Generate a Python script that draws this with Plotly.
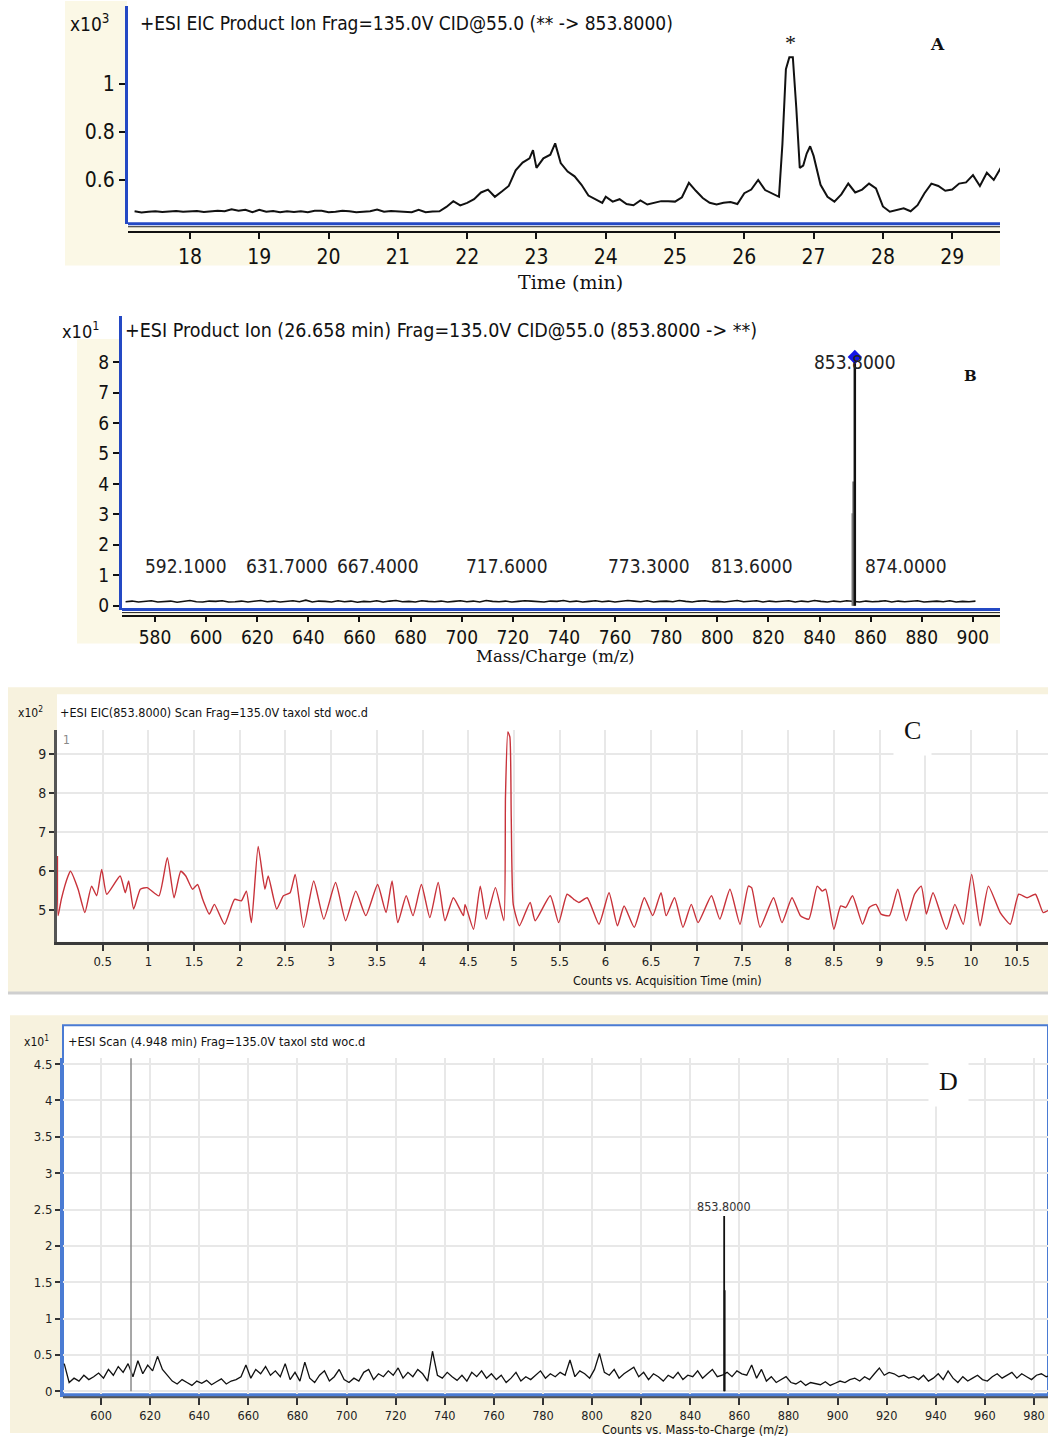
import numpy as np
import plotly.graph_objects as go

# ---------------- DATA ----------------
# Panel A: +ESI EIC product ion, counts (x10^3) vs time (min)
a_time = [17.2, 17.3, 17.4, 17.5, 17.6, 17.7, 17.8, 17.9, 18.0, 18.1, 18.2, 18.3, 18.4, 18.5,
          18.6, 18.7, 18.8, 18.9, 19.0, 19.1, 19.2, 19.3, 19.4, 19.5, 19.6, 19.7, 19.8, 19.9,
          20.0, 20.1, 20.2, 20.3, 20.4, 20.5, 20.6, 20.7, 20.8, 20.9, 21.0, 21.1, 21.2, 21.3,
          21.4, 21.5, 21.6, 21.7, 21.8, 21.9, 22.0, 22.1, 22.2, 22.3, 22.4, 22.5, 22.6, 22.7,
          22.8, 22.9, 22.95, 23.0, 23.1, 23.2, 23.27, 23.35, 23.45, 23.55, 23.65, 23.75, 23.85,
          23.95, 24.0, 24.1, 24.2, 24.3, 24.4, 24.5, 24.6, 24.7, 24.8, 24.9, 25.0, 25.1, 25.2,
          25.3, 25.4, 25.5, 25.6, 25.7, 25.8, 25.9, 26.0, 26.1, 26.2, 26.3, 26.4, 26.5, 26.55,
          26.6, 26.65, 26.7, 26.75, 26.8, 26.85, 26.9, 26.95, 27.0, 27.1, 27.2, 27.3, 27.4,
          27.5, 27.6, 27.7, 27.8, 27.9, 28.0, 28.1, 28.2, 28.3, 28.4, 28.5, 28.6, 28.7, 28.8,
          28.9, 29.0, 29.1, 29.2, 29.3, 29.4, 29.5, 29.6, 29.7]
a_counts = [0.470, 0.465, 0.468, 0.470, 0.467, 0.470, 0.471, 0.468, 0.470, 0.471, 0.467, 0.470,
            0.472, 0.470, 0.478, 0.472, 0.476, 0.466, 0.476, 0.468, 0.471, 0.466, 0.470, 0.467,
            0.470, 0.466, 0.472, 0.472, 0.466, 0.468, 0.472, 0.470, 0.466, 0.468, 0.470, 0.477,
            0.468, 0.471, 0.470, 0.470, 0.466, 0.476, 0.466, 0.469, 0.470, 0.488, 0.512, 0.494,
            0.505, 0.520, 0.548, 0.560, 0.530, 0.552, 0.575, 0.640, 0.672, 0.690, 0.724, 0.650,
            0.690, 0.705, 0.752, 0.670, 0.635, 0.615, 0.580, 0.535, 0.520, 0.505, 0.530, 0.510,
            0.520, 0.500, 0.495, 0.515, 0.498, 0.505, 0.512, 0.512, 0.510, 0.528, 0.588, 0.555,
            0.525, 0.505, 0.498, 0.505, 0.508, 0.500, 0.545, 0.560, 0.600, 0.558, 0.545, 0.530,
            0.750, 1.060, 1.110, 1.110, 0.900, 0.650, 0.660, 0.710, 0.740, 0.700, 0.580, 0.530,
            0.510, 0.540, 0.585, 0.548, 0.560, 0.585, 0.565, 0.490, 0.468, 0.475, 0.482, 0.470,
            0.495, 0.545, 0.585, 0.575, 0.555, 0.560, 0.585, 0.590, 0.620, 0.575, 0.630, 0.600,
            0.650]
a_xticks = [18, 19, 20, 21, 22, 23, 24, 25, 26, 27, 28, 29]
a_yticks = [0.6, 0.8, 1]

# Panel B: product ion spectrum, counts (x10^1) vs m/z
b_noise_counts = [0.13, 0.15, 0.12, 0.14, 0.16, 0.12, 0.13, 0.15, 0.11, 0.14,
                  0.17, 0.13, 0.12, 0.15, 0.14, 0.16, 0.12, 0.13, 0.15, 0.12,
                  0.14, 0.17, 0.13, 0.15, 0.12, 0.14, 0.16, 0.13, 0.18, 0.12,
                  0.15, 0.14, 0.12, 0.16, 0.13, 0.15, 0.11, 0.14, 0.13, 0.16,
                  0.12, 0.15, 0.17, 0.13, 0.14, 0.12, 0.16, 0.14, 0.13, 0.15,
                  0.12, 0.14, 0.16, 0.13, 0.15, 0.12, 0.17, 0.14, 0.13, 0.15,
                  0.12, 0.14, 0.16, 0.15, 0.13, 0.12, 0.15, 0.14, 0.17, 0.13,
                  0.15, 0.12, 0.14, 0.16, 0.13, 0.15, 0.12, 0.14, 0.17, 0.15,
                  0.13, 0.16, 0.12, 0.14, 0.15, 0.13, 0.17, 0.14, 0.12, 0.15,
                  0.16, 0.13, 0.14, 0.12, 0.15, 0.17, 0.13, 0.14, 0.16, 0.12,
                  0.15, 0.13, 0.14, 0.16, 0.12, 0.15, 0.13, 0.17, 0.14, 0.12,
                  0.15, 0.13, 0.16, 0.14, 0.12, 0.15, 0.13, 0.14, 0.16, 0.12,
                  0.15, 0.13, 0.14, 0.16, 0.12, 0.14, 0.15, 0.13, 0.16, 0.12,
                  0.14, 0.13, 0.15]
b_noise_mz_range = [568.5, 901.0]
b_stick_mz = [853.2, 853.5, 853.8]
b_stick_counts = [3.04, 4.08, 8.17]
b_label_mz = [592.1, 631.7, 667.4, 717.6, 773.3, 813.6, 874.0]
b_label_level = 1.31
b_top_mz = 853.8
b_top_counts = 8.17
b_xticks = [580, 600, 620, 640, 660, 680, 700, 720, 740, 760, 780, 800, 820, 840, 860, 880, 900]
b_yticks = [0, 1, 2, 3, 4, 5, 6, 7, 8]

# Panel C: EIC(853.8) scan, counts (x10^2) vs acquisition time (min)
c_time = [0.005, 0.012, 0.047, 0.121, 0.147, 0.231, 0.305, 0.378, 0.434, 0.489, 0.544, 0.691,
          0.747, 0.784, 0.839, 0.912, 0.986, 1.115, 1.207, 1.281, 1.354, 1.409, 1.483, 1.538,
          1.594, 1.667, 1.722, 1.833, 1.943, 2.017, 2.072, 2.127, 2.201, 2.275, 2.311, 2.404,
          2.477, 2.551, 2.606, 2.698, 2.809, 2.919, 3.048, 3.158, 3.269, 3.379, 3.508, 3.600,
          3.666, 3.729, 3.821, 3.895, 3.987, 4.079, 4.171, 4.245, 4.337, 4.447, 4.465, 4.557,
          4.631, 4.697, 4.797, 4.889, 4.907, 4.933, 4.955, 4.970, 4.992, 5.060, 5.177, 5.232,
          5.397, 5.489, 5.581, 5.654, 5.709, 5.801, 5.930, 6.040, 6.132, 6.205, 6.316, 6.426,
          6.518, 6.609, 6.665, 6.757, 6.849, 6.940, 7.014, 7.161, 7.252, 7.363, 7.473, 7.565,
          7.600, 7.693, 7.840, 7.932, 8.042, 8.134, 8.226, 8.318, 8.373, 8.410, 8.501, 8.575,
          8.630, 8.704, 8.814, 8.887, 8.961, 9.016, 9.108, 9.199, 9.291, 9.383, 9.456, 9.512,
          9.585, 9.732, 9.824, 9.916, 10.008, 10.100, 10.191, 10.320, 10.430, 10.522, 10.614,
          10.706, 10.790, 10.850]
c_counts = [6.39, 4.86, 5.28, 5.88, 6.00, 5.54, 4.94, 5.62, 5.37, 6.05, 5.41, 5.88,
            5.45, 5.75, 5.03, 5.54, 5.58, 5.37, 6.35, 5.32, 6.00, 5.88, 5.54, 5.66,
            5.28, 4.90, 5.15, 4.64, 5.28, 5.24, 5.49, 4.68, 6.64, 5.54, 5.88, 5.03,
            5.37, 5.45, 5.92, 4.56, 5.75, 4.77, 5.71, 4.73, 5.49, 4.86, 5.66, 4.94,
            5.75, 4.68, 5.37, 4.86, 5.66, 4.81, 5.71, 4.73, 5.32, 4.86, 5.15, 4.51,
            5.62, 4.77, 5.58, 4.73, 7.92, 9.58, 9.45, 7.41, 5.15, 4.60, 5.20, 4.73,
            5.37, 4.68, 5.41, 5.28, 5.20, 5.32, 4.64, 5.45, 4.60, 5.11, 4.56, 5.32,
            4.86, 5.45, 4.86, 5.32, 4.56, 5.15, 4.68, 5.37, 4.77, 5.54, 4.64, 5.62,
            5.58, 4.56, 5.32, 4.68, 5.32, 4.86, 4.77, 5.62, 5.49, 5.54, 4.51, 5.11,
            5.07, 5.37, 4.64, 5.07, 5.15, 4.90, 4.86, 5.54, 4.73, 5.41, 5.62, 4.90,
            5.45, 4.51, 5.15, 4.64, 5.92, 4.60, 5.62, 4.94, 4.64, 5.41, 5.32,
            5.41, 4.94, 5.00]
c_xticks = [0.5, 1, 1.5, 2, 2.5, 3, 3.5, 4, 4.5, 5, 5.5, 6, 6.5, 7, 7.5, 8, 8.5, 9, 9.5, 10, 10.5]
c_yticks = [5, 6, 7, 8, 9]

# Panel D: scan at 4.948 min, counts (x10^1) vs m/z
d_noise_counts = [0.38, 0.12, 0.18, 0.14, 0.22, 0.16, 0.20, 0.25,
                  0.18, 0.30, 0.22, 0.34, 0.26, 0.38, 0.20, 0.42, 0.24, 0.36, 0.28, 0.48, 0.30,
                  0.22, 0.14, 0.10, 0.16, 0.12, 0.08, 0.14, 0.11, 0.15, 0.09, 0.13, 0.17, 0.10, 0.14, 0.16,
                  0.20, 0.36, 0.18, 0.30, 0.24, 0.34, 0.22, 0.28, 0.20, 0.38, 0.16, 0.26, 0.14, 0.40, 0.18,
                  0.12, 0.22, 0.28, 0.14, 0.20, 0.30, 0.16,
                  0.12, 0.18, 0.14, 0.26, 0.30, 0.16, 0.24, 0.20, 0.28, 0.22, 0.32, 0.18, 0.26, 0.20, 0.30,
                  0.24, 0.14, 0.55, 0.22, 0.18, 0.26, 0.20, 0.15,
                  0.22, 0.14, 0.26, 0.20, 0.28, 0.18, 0.24, 0.16, 0.22, 0.12, 0.18, 0.26, 0.14, 0.20, 0.16,
                  0.22, 0.28, 0.18, 0.24, 0.20,
                  0.26, 0.22, 0.43, 0.20, 0.28, 0.24, 0.18, 0.30, 0.52, 0.26, 0.22, 0.30, 0.18, 0.24, 0.28,
                  0.33, 0.20, 0.26, 0.16, 0.24, 0.20, 0.14, 0.22, 0.18, 0.26, 0.16, 0.22, 0.20, 0.28, 0.18,
                  0.24, 0.30, 0.20,
                  0.22,
                  0.26, 0.20, 0.28, 0.24, 0.22, 0.36, 0.18, 0.30, 0.14, 0.20, 0.12, 0.16, 0.20,
                  0.12, 0.10, 0.14, 0.08, 0.12, 0.10, 0.09, 0.13, 0.08, 0.11, 0.14, 0.12, 0.16, 0.18, 0.14,
                  0.20, 0.16, 0.24, 0.32, 0.22, 0.26, 0.24, 0.20, 0.22, 0.18, 0.20,
                  0.16, 0.22, 0.14, 0.18, 0.24, 0.16, 0.28, 0.18, 0.12, 0.20, 0.14, 0.18, 0.22, 0.16,
                  0.14, 0.20, 0.24, 0.18, 0.22, 0.26, 0.18, 0.24, 0.20, 0.16, 0.22, 0.24, 0.20, 0.22]
d_noise_mz_range = [585.0, 987.0]
d_stick_mz = [853.8, 854.0]
d_stick_counts = [2.41, 1.39]
d_label_mz = 853.8
d_cursor_mz = 612.2
d_xticks = [600, 620, 640, 660, 680, 700, 720, 740, 760, 780, 800, 820, 840, 860, 880, 900,
            920, 940, 960, 980]
d_yticks = [0, 0.5, 1, 1.5, 2, 2.5, 3, 3.5, 4, 4.5]

# ---------------- HELPERS ----------------
W, H = 1048, 1440


def px(x):
    return x / W


def py(y):
    return 1 - y / H


NARROW = "Liberation Sans Narrow, DejaVu Sans Condensed, Arial Narrow, sans-serif"
SERIF = "Liberation Serif, Times New Roman, serif"
WSERIF = "DejaVu Serif, serif"
CREAM = "#FBF8E6"
CREAM2 = "#F7F2DE"
BLUE = "#2449C4"
BLUE2 = "#4A7BD3"


def sticks(xs, ys):
    sx, sy = [], []
    for a, b in zip(xs, ys):
        sx += [a, a, None]
        sy += [0, b, None]
    return sx, sy


fig = go.Figure()

# Panel A trace
fig.add_trace(go.Scatter(x=a_time, y=a_counts, mode="lines",
                         line=dict(color="#111111", width=2), xaxis="x", yaxis="y"))

# Panel B traces
b_mz = np.linspace(b_noise_mz_range[0], b_noise_mz_range[1], len(b_noise_counts))
fig.add_trace(go.Scatter(x=b_mz, y=b_noise_counts, mode="lines",
                         line=dict(color="#111111", width=1.6), xaxis="x2", yaxis="y2"))
sx, sy = sticks(b_stick_mz[:2], b_stick_counts[:2])
fig.add_trace(go.Scatter(x=sx, y=sy, mode="lines", line=dict(color="#777777", width=3.5),
                         xaxis="x2", yaxis="y2"))
sx, sy = sticks(b_stick_mz[2:], b_stick_counts[2:])
fig.add_trace(go.Scatter(x=sx, y=sy, mode="lines", line=dict(color="#111111", width=2.5),
                         xaxis="x2", yaxis="y2"))
fig.add_trace(go.Scatter(x=[b_top_mz], y=[b_top_counts], mode="markers",
                         marker=dict(symbol="diamond", size=11, color="#1515E8"),
                         xaxis="x2", yaxis="y2"))

# Panel C trace
fig.add_trace(go.Scatter(x=c_time, y=c_counts, mode="lines",
                         line=dict(color="#C8323A", width=1.4, shape="spline", smoothing=0.5),
                         xaxis="x3", yaxis="y3"))

# Panel D traces
d_mz = np.linspace(d_noise_mz_range[0], d_noise_mz_range[1], len(d_noise_counts))
fig.add_trace(go.Scatter(x=d_mz, y=d_noise_counts, mode="lines",
                         line=dict(color="#111111", width=1.3), xaxis="x4", yaxis="y4"))
sx, sy = sticks(d_stick_mz, d_stick_counts)
fig.add_trace(go.Scatter(x=sx, y=sy, mode="lines", line=dict(color="#111111", width=1.8),
                         xaxis="x4", yaxis="y4"))

# ---------------- SHAPES (backgrounds / frames) ----------------
shapes = []


def rect(x0, y0, x1, y1, fill, line_color=None, lw=0):
    shapes.append(dict(type="rect", xref="paper", yref="paper", x0=px(x0), x1=px(x1),
                       y0=py(y1), y1=py(y0), fillcolor=fill, layer="below",
                       line=dict(color=line_color or fill, width=lw)))


def hline(x0, x1, y, color, w):
    shapes.append(dict(type="line", xref="paper", yref="paper", x0=px(x0), x1=px(x1),
                       y0=py(y), y1=py(y), line=dict(color=color, width=w), layer="above"))


# A
rect(65, 0, 127, 266, CREAM)
rect(127, 227, 1000, 266, CREAM)
# B
rect(77, 340, 121, 646, CREAM)
rect(121, 615, 1000, 646, CREAM)
# C
rect(8, 690, 1048, 997, CREAM2)
rect(57, 697, 1048, 946, "white")
rect(8, 996, 1048, 999, "#CFCFCF")
# D
rect(10, 1020, 1048, 1440, CREAM2)
rect(63, 1030, 1048, 1401, "white", BLUE2, 2)

hline(128, 1000, 224, BLUE, 3)
hline(128, 1000, 227, "#222222", 1)
hline(122, 1000, 612, BLUE, 3)
hline(122, 1000, 615, "#222222", 1)
hline(63, 1048, 1404, "#555555", 2)

shapes.append(dict(type="line", xref="x4", yref="y4", x0=d_cursor_mz, x1=d_cursor_mz,
                   y0=0, y1=4.58, line=dict(color="#8A8A8A", width=1.5), layer="above"))

# ---------------- ANNOTATIONS ----------------
ann = []


def text(x, y, s, size, family=NARROW, color="#111111", xanchor="left", bg=None, pad=0):
    d = dict(x=px(x), y=py(y), xref="paper", yref="paper", text=s, showarrow=False,
             xanchor=xanchor, yanchor="middle", font=dict(size=size, family=family, color=color))
    if bg:
        d.update(bgcolor=bg, borderpad=pad)
    ann.append(d)


# A
text(68, 22, "x10<sup>3</sup>", 19)
text(138, 22, "+ESI EIC Product Ion Frag=135.0V CID@55.0 (** -> 853.8000)", 19)
text(790, 42, "*", 22, SERIF, xanchor="center")
text(937, 43, "<b>A</b>", 17, WSERIF, xanchor="center")
text(570, 283, "Time (min)", 19, WSERIF, xanchor="center")
# B
text(60, 331, "x10<sup>1</sup>", 18)
text(123, 331, "+ESI Product Ion (26.658 min) Frag=135.0V CID@55.0 (853.8000 -> **)", 19.5)
for m in b_label_mz:
    ann.append(dict(x=m, y=b_label_level, xref="x2", yref="y2", text=f"{m:.4f}",
                    showarrow=False, xanchor="center", yanchor="middle",
                    font=dict(size=19, family=NARROW, color="#222222")))
ann.append(dict(x=b_top_mz, y=8.0, xref="x2", yref="y2", text=f"{b_top_mz:.4f}",
                showarrow=False, xanchor="center", yanchor="middle",
                font=dict(size=19, family=NARROW, color="#222222")))
text(970, 377, "<b>B</b>", 15, WSERIF, xanchor="center")
text(555, 659, "Mass/Charge (m/z)", 16.5, WSERIF, xanchor="center")
# C
text(16, 715, "x10<sup>2</sup>", 12)
text(58, 715, "+ESI EIC(853.8000) Scan Frag=135.0V taxol std woc.d", 12.5)
text(61, 743, "1", 12, color="#888888")
text(912, 734, "C", 26, SERIF, xanchor="center", bg="white", pad=10)
text(667, 985, "Counts vs. Acquisition Time (min)", 12.5, xanchor="center")
# D
text(22, 1046, "x10<sup>1</sup>", 12)
text(66, 1046, "+ESI Scan (4.948 min) Frag=135.0V taxol std woc.d", 12.7)
text(948, 1087, "D", 26, SERIF, xanchor="center", bg="white", pad=10)
ann.append(dict(x=d_label_mz, y=2.54, xref="x4", yref="y4", text=f"{d_label_mz:.4f}",
                showarrow=False, xanchor="center", yanchor="middle",
                font=dict(size=12.5, family=NARROW, color="#333333")))
text(695, 1436, "Counts vs. Mass-to-Charge (m/z)", 12.7, xanchor="center")

# ---------------- AXES ----------------
common = dict(showgrid=False, zeroline=False, ticks="outside")

layout = dict(
    width=W, height=H, margin=dict(l=0, r=0, t=0, b=0),
    paper_bgcolor="white", plot_bgcolor="rgba(0,0,0,0)", showlegend=False,
    shapes=shapes, annotations=ann,
    # A
    xaxis=dict(common, domain=[px(128), px(1000)], range=[17.105, 29.69], anchor="free",
               position=py(232), showline=True, linecolor="#111111", linewidth=2,
               tickvals=a_xticks, ticklen=6, tickwidth=2, tickcolor="#111111",
               tickfont=dict(size=21, family=NARROW, color="#111111")),
    yaxis=dict(common, domain=[py(224), py(5)], range=[0.418, 1.323], anchor="x",
               showline=True, linecolor=BLUE, linewidth=3, tickvals=a_yticks,
               ticklen=6, tickwidth=1.5, tickcolor="#111111",
               tickfont=dict(size=21, family=NARROW, color="#111111")),
    # B
    xaxis2=dict(common, domain=[px(122), px(1000)], range=[567.1, 910.6], anchor="free",
                position=py(618), showline=True, linecolor="#111111", linewidth=2,
                tickvals=b_xticks, ticklen=5, tickwidth=2, tickcolor="#111111",
                tickfont=dict(size=19, family=NARROW, color="#111111")),
    yaxis2=dict(common, domain=[py(612), py(317)], range=[-0.13, 9.51], anchor="x2",
                showline=True, linecolor=BLUE, linewidth=3, tickvals=b_yticks,
                ticklen=6, tickwidth=1.5, tickcolor="#111111",
                tickfont=dict(size=19, family=NARROW, color="#111111")),
    # C
    xaxis3=dict(zeroline=False, ticks="outside", domain=[px(57), 1.0], range=[0.0, 10.843],
                anchor="y3", showline=True, linecolor="#3A3A3A", linewidth=3,
                showgrid=True, gridcolor="#E8E8E8", gridwidth=1.5,
                tickvals=c_xticks, ticklen=6, tickwidth=1.5, tickcolor="#333333",
                tickfont=dict(size=13, family=NARROW, color="#222222")),
    yaxis3=dict(zeroline=False, ticks="outside", domain=[py(946), py(733)], range=[4.19, 9.631],
                anchor="x3", showline=True, linecolor="#555555", linewidth=3,
                showgrid=True, gridcolor="#E8E8E8", gridwidth=1.5,
                tickvals=c_yticks, ticklen=5, tickwidth=1.5, tickcolor="#333333",
                tickfont=dict(size=14, family=NARROW, color="#222222")),
    # D
    xaxis4=dict(zeroline=False, ticks="outside", domain=[px(63), 1.0], range=[584.5, 985.7],
                anchor="y4", showline=True, linecolor=BLUE2, linewidth=3,
                showgrid=True, gridcolor="#E8E8E8", gridwidth=1.5,
                tickvals=d_xticks, ticklen=8, tickwidth=1.5, tickcolor="#333333",
                tickfont=dict(size=12.6, family=NARROW, color="#222222")),
    yaxis4=dict(zeroline=False, ticks="outside", domain=[py(1401), py(1063)], range=[-0.041, 4.583],
                anchor="x4", showline=True, linecolor=BLUE2, linewidth=3,
                showgrid=True, gridcolor="#E8E8E8", gridwidth=1.5,
                tickvals=d_yticks, ticklen=5, tickwidth=1.5, tickcolor="#333333",
                tickfont=dict(size=13, family=NARROW, color="#222222")),
)
fig.update_layout(**layout)
fig.write_html("out.html", config={"displayModeBar": False},
               post_script="document.body.style.margin='0px';")
